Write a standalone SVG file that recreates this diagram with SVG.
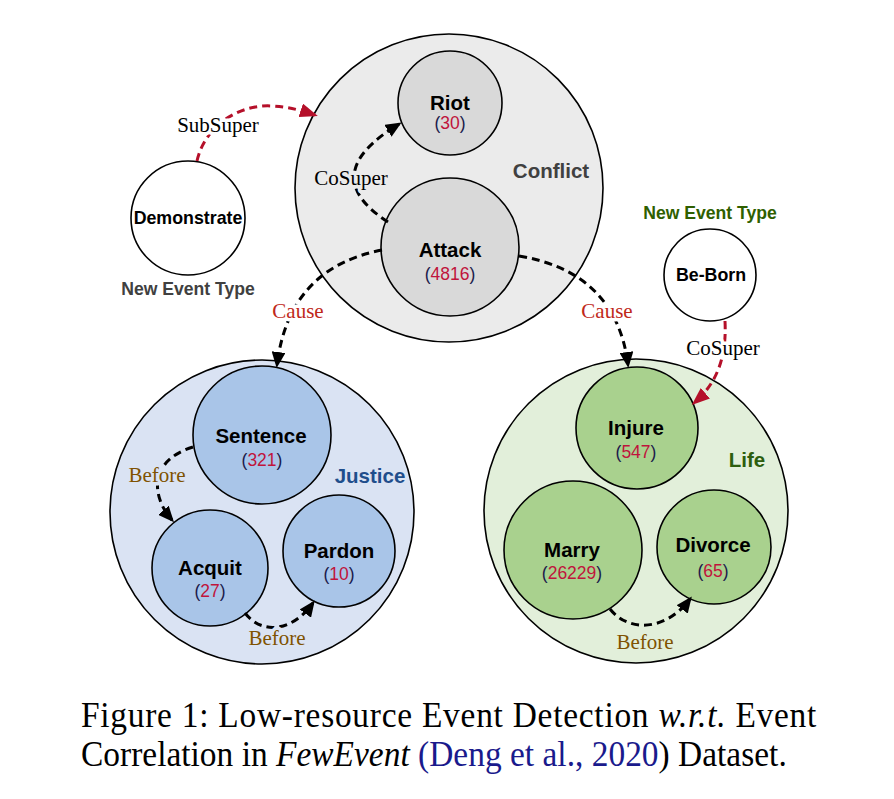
<svg xmlns="http://www.w3.org/2000/svg" width="894" height="799" viewBox="0 0 894 799">
<style>
.c{stroke:#000;stroke-width:1.6}
.n{font-family:"Liberation Sans",Arial,sans-serif;font-weight:bold;font-size:20.5px;text-anchor:middle;fill:#000}
.num{font-family:"Liberation Sans",Arial,sans-serif;font-size:17.5px;text-anchor:middle;fill:#1b1b4b}
.num tspan{fill:#c0143c}
.grp{font-family:"Liberation Sans",Arial,sans-serif;font-weight:bold;font-size:20.5px;text-anchor:middle}
.net{font-family:"Liberation Sans",Arial,sans-serif;font-weight:bold;font-size:17.6px;text-anchor:middle}
.e{fill:none;stroke:#000;stroke-width:3;stroke-dasharray:8 5}
.er{fill:none;stroke:#b5102a;stroke-width:3;stroke-dasharray:8 5}
.lb{font-family:"Liberation Serif","Times New Roman",serif;font-size:21px;text-anchor:middle;paint-order:stroke;stroke-width:7;stroke-linejoin:round}
.cap{font-family:"Liberation Serif","Times New Roman",serif;font-size:35px;fill:#000}
</style>
<defs>
<marker id="ab" viewBox="0 0 16 14" refX="13" refY="7" markerWidth="16" markerHeight="14" markerUnits="userSpaceOnUse" orient="auto">
<path d="M0,0 L16,7 L0,14 z" fill="#000"/>
</marker>
<marker id="ar" viewBox="0 0 18 14" refX="15" refY="7" markerWidth="18" markerHeight="14" markerUnits="userSpaceOnUse" orient="auto">
<path d="M0,0 L18,7 L0,14 z" fill="#b5102a"/>
</marker>
</defs>
<rect width="894" height="799" fill="#fff"/>

<g id="conflict">
<circle class="c" cx="449" cy="188" r="154" fill="#ebebeb"/>
<text class="grp" x="551" y="178" fill="#404040">Conflict</text>
</g>
<g id="riot">
<circle class="c" cx="450" cy="103" r="52" fill="#d9d9d9"/>
<text class="n" x="450" y="110">Riot</text>
<text class="num" x="450" y="129">(<tspan>30</tspan>)</text>
</g>
<g id="attack">
<circle class="c" cx="450" cy="247" r="69" fill="#d9d9d9"/>
<text class="n" x="450" y="257">Attack</text>
<text class="num" x="450" y="280">(<tspan>4816</tspan>)</text>
</g>

<g id="demonstrate">
<circle class="c" cx="188" cy="218" r="57" fill="#fff"/>
<text class="n" x="188" y="224" style="font-size:17.8px">Demonstrate</text>
<text class="net" x="188" y="295" fill="#404040">New Event Type</text>
</g>

<g id="beborn">
<circle class="c" cx="710" cy="275" r="46" fill="#fff"/>
<text class="n" x="711" y="281" style="font-size:17.8px">Be-Born</text>
<text class="net" x="710" y="219" fill="#2f5f00">New Event Type</text>
</g>

<g id="justice">
<circle class="c" cx="262" cy="512" r="152" fill="#dae3f3"/>
<text class="grp" x="370" y="483" fill="#1f4e8c">Justice</text>
</g>
<g id="sentence">
<circle class="c" cx="262" cy="435" r="69" fill="#a9c5e8"/>
<text class="n" x="261" y="443">Sentence</text>
<text class="num" x="262" y="466">(<tspan>321</tspan>)</text>
</g>
<g id="acquit">
<circle class="c" cx="210" cy="568" r="58" fill="#a9c5e8"/>
<text class="n" x="210" y="575">Acquit</text>
<text class="num" x="210" y="597">(<tspan>27</tspan>)</text>
</g>
<g id="pardon">
<circle class="c" cx="339" cy="551" r="56" fill="#a9c5e8"/>
<text class="n" x="339" y="558">Pardon</text>
<text class="num" x="339" y="580">(<tspan>10</tspan>)</text>
</g>

<g id="life">
<circle class="c" cx="636" cy="511" r="152" fill="#e2efda"/>
<text class="grp" x="747" y="467" fill="#2d5e0e">Life</text>
</g>
<g id="injure">
<circle class="c" cx="637" cy="428" r="61" fill="#a9d18e"/>
<text class="n" x="636" y="435">Injure</text>
<text class="num" x="636" y="458">(<tspan>547</tspan>)</text>
</g>
<g id="marry">
<circle class="c" cx="573" cy="550" r="69" fill="#a9d18e"/>
<text class="n" x="572" y="557">Marry</text>
<text class="num" x="572" y="579">(<tspan>26229</tspan>)</text>
</g>
<g id="divorce">
<circle class="c" cx="714" cy="547" r="57" fill="#a9d18e"/>
<text class="n" x="713" y="552">Divorce</text>
<text class="num" x="713" y="577">(<tspan>65</tspan>)</text>
</g>

<g id="connectors">
<path class="er" d="M197,161 C205,125 240,104 272,106 C290,107 303,111 315,115" marker-end="url(#ar)"/>
<text class="lb" x="218" y="132" fill="#000" stroke="#fff">SubSuper</text>
<path class="e" d="M388,222 Q315,175 399,124" marker-end="url(#ab)"/>
<text class="lb" x="351" y="185" fill="#000" stroke="#ebebeb">CoSuper</text>
<path class="e" d="M382,250 C320,262 285,300 277,365" marker-end="url(#ab)"/>
<text class="lb" x="298" y="318" fill="#c0281a" stroke="#fff">Cause</text>
<path class="e" d="M519,256 C580,266 620,300 628,365" marker-end="url(#ab)"/>
<text class="lb" x="607" y="318" fill="#c0281a" stroke="#fff">Cause</text>
<path class="er" d="M725,321 C727,360 715,385 694,403" marker-end="url(#ar)"/>
<text class="lb" x="723" y="355" fill="#000" stroke="#fff">CoSuper</text>
<path class="e" d="M193,447 C150,460 150,495 172,520" marker-end="url(#ab)"/>
<text class="lb" x="157" y="482" fill="#7f5200" stroke="#dae3f3">Before</text>
<path class="e" d="M245,613 C262,635 292,632 313,603" marker-end="url(#ab)"/>
<text class="lb" x="277" y="645" fill="#7f5200" stroke="#dae3f3">Before</text>
<path class="e" d="M610,609 C628,632 665,632 690,599" marker-end="url(#ab)"/>
<text class="lb" x="645" y="649" fill="#7f5200" stroke="#e2efda">Before</text>
</g>

<g id="caption" transform="translate(81,0) scale(0.955,1)">
<text class="cap" x="0" y="727" textLength="770" lengthAdjust="spacing">Figure 1:  Low-resource Event Detection <tspan font-style="italic">w.r.t.</tspan> Event</text>
<text class="cap" x="0" y="766" textLength="739" lengthAdjust="spacing">Correlation in <tspan font-style="italic">FewEvent</tspan> <tspan fill="#1a1a8c">(Deng et al., 2020</tspan>) Dataset.</text>
</g>
</svg>
